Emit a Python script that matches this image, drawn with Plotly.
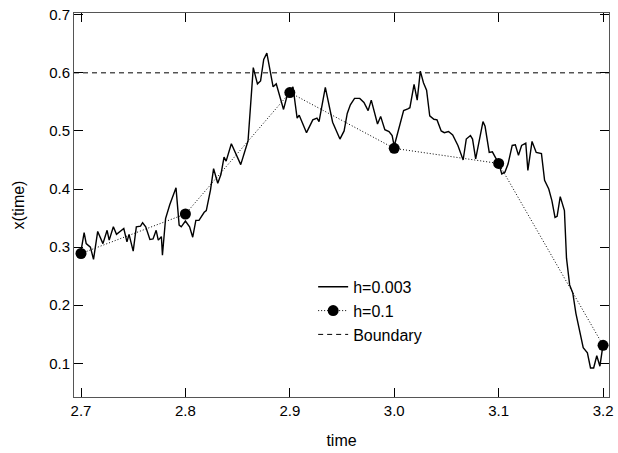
import plotly.graph_objects as go

# h=0.003 fine solution
t_fine = [2.700, 2.703, 2.705, 2.709, 2.712, 2.716, 2.721, 2.725, 2.727, 2.731,
          2.734, 2.737, 2.741, 2.744, 2.746, 2.750, 2.753, 2.757, 2.759, 2.762,
          2.766, 2.769, 2.772, 2.774, 2.777, 2.778, 2.781, 2.785, 2.791, 2.794,
          2.796, 2.800, 2.804, 2.807, 2.810, 2.813, 2.818, 2.820, 2.823, 2.824,
          2.827, 2.831, 2.834, 2.837, 2.839, 2.844, 2.853, 2.860, 2.865, 2.869,
          2.872, 2.875, 2.878, 2.884, 2.887, 2.894, 2.897, 2.900, 2.903, 2.907,
          2.909, 2.916, 2.922, 2.926, 2.928, 2.934, 2.941, 2.948, 2.952, 2.955,
          2.958, 2.962, 2.967, 2.971, 2.975, 2.978, 2.984, 2.987, 2.991, 2.995,
          2.998, 3.000, 3.005, 3.009, 3.013, 3.015, 3.019, 3.022, 3.025, 3.028,
          3.031, 3.034, 3.038, 3.041, 3.045, 3.048, 3.052, 3.056, 3.061, 3.066,
          3.069, 3.073, 3.075, 3.078, 3.085, 3.087, 3.091, 3.094, 3.097, 3.100,
          3.103, 3.106, 3.109, 3.113, 3.116, 3.119, 3.122, 3.126, 3.128, 3.132,
          3.136, 3.141, 3.144, 3.148, 3.151, 3.154, 3.156, 3.159, 3.163, 3.165,
          3.168, 3.171, 3.174, 3.177, 3.181, 3.185, 3.188, 3.191, 3.194, 3.197,
          3.200]
x_fine = [0.293, 0.325, 0.306, 0.300, 0.279, 0.327, 0.306, 0.329, 0.312, 0.335,
          0.322, 0.327, 0.332, 0.309, 0.322, 0.293, 0.335, 0.336, 0.342, 0.335,
          0.313, 0.314, 0.329, 0.312, 0.318, 0.286, 0.349, 0.373, 0.402, 0.338,
          0.335, 0.345, 0.335, 0.317, 0.346, 0.346, 0.360, 0.363, 0.389, 0.398,
          0.435, 0.410, 0.425, 0.455, 0.448, 0.478, 0.442, 0.483, 0.609, 0.581,
          0.586, 0.623, 0.634, 0.576, 0.581, 0.537, 0.558, 0.568, 0.576, 0.522,
          0.527, 0.497, 0.519, 0.522, 0.516, 0.575, 0.515, 0.486, 0.500, 0.530,
          0.545, 0.556, 0.556, 0.549, 0.535, 0.553, 0.512, 0.525, 0.502, 0.499,
          0.492, 0.474, 0.506, 0.535, 0.538, 0.540, 0.580, 0.553, 0.603, 0.583,
          0.570, 0.526, 0.520, 0.519, 0.500, 0.497, 0.499, 0.493, 0.475, 0.450,
          0.486, 0.492, 0.486, 0.452, 0.516, 0.508, 0.463, 0.464, 0.454, 0.445,
          0.426, 0.429, 0.443, 0.475, 0.476, 0.458, 0.475, 0.479, 0.432, 0.482,
          0.463, 0.461, 0.415, 0.400, 0.380, 0.351, 0.353, 0.387, 0.363, 0.281,
          0.235, 0.221, 0.186, 0.158, 0.127, 0.118, 0.092, 0.092, 0.113, 0.095,
          0.132]

# h=0.1 coarse solution
t_coarse = [2.7, 2.8, 2.9, 3.0, 3.1, 3.2]
x_coarse = [0.289, 0.357, 0.566, 0.470, 0.444, 0.131]

# Boundary
boundary_value = 0.6
x_range = [2.6933, 3.2057]
y_range = [0.042, 0.703]
x_ticks = [2.7, 2.8, 2.9, 3.0, 3.1, 3.2]
y_ticks = [0.1, 0.2, 0.3, 0.4, 0.5, 0.6, 0.7]

FONT = "Liberation Sans, Arial, Helvetica, sans-serif"

fig = go.Figure()
fig.add_trace(go.Scatter(x=t_fine, y=x_fine, mode="lines", name="h=0.003",
                         line=dict(color="black", width=1.4)))
fig.add_trace(go.Scatter(x=t_coarse, y=x_coarse, mode="lines+markers", name="h=0.1",
                         line=dict(color="black", width=1, dash="1px,2px"),
                         marker=dict(color="black", size=11)))
fig.add_trace(go.Scatter(x=x_range, y=[boundary_value, boundary_value], mode="lines",
                         name="Boundary",
                         line=dict(color="black", width=1, dash="5px,4px")))

axis_common = dict(showgrid=False, zeroline=False, showline=True, mirror="ticks",
                   linecolor="#555555", linewidth=1, ticks="inside", ticklen=9,
                   tickcolor="black", tickwidth=1,
                   tickfont=dict(family=FONT, size=15, color="black"))

fig.update_xaxes(range=x_range, tickvals=x_ticks, tickformat=".1f",
                 title=dict(text="time", font=dict(family=FONT, size=16, color="black"),
                            standoff=16),
                 **axis_common)
fig.update_yaxes(range=y_range, tickvals=y_ticks, tickformat=".1f",
                 title=dict(text="x(time)", font=dict(family=FONT, size=16, color="black"),
                            standoff=20),
                 **axis_common)

fig.update_layout(
    width=618, height=453,
    margin=dict(l=74, r=5, t=13, b=56),
    plot_bgcolor="white", paper_bgcolor="white",
    font=dict(family=FONT, size=15, color="black"),
    legend=dict(x=0.447, y=0.331, xanchor="left", yanchor="top",
                bgcolor="rgba(0,0,0,0)", font=dict(family=FONT, size=16),
                tracegroupgap=0, itemwidth=30),
    showlegend=True,
)

fig.write_html("out.html")
